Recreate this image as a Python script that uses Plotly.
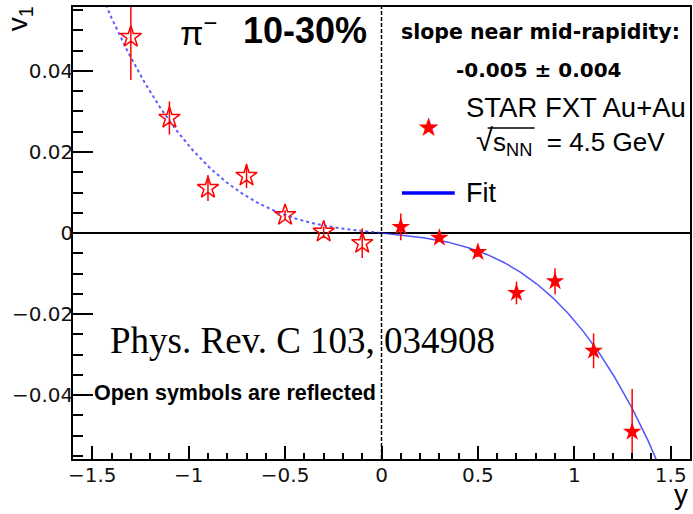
import numpy as np
import plotly.graph_objects as go

# ---------------- data ----------------
y_measured = [0.1, 0.3, 0.5, 0.7, 0.9, 1.1, 1.3]
v1_measured = [0.0015, -0.0012, -0.0047, -0.0148, -0.0119, -0.0291, -0.0491]
v1_measured_err = [0.0033, 0.0010, 0.0012, 0.0028, 0.0032, 0.0043, 0.0106]

y_reflected = [-0.1, -0.3, -0.5, -0.7, -0.9, -1.1, -1.3]
v1_reflected = [-0.0025, 0.0003, 0.0044, 0.0141, 0.0111, 0.0284, 0.0484]
v1_reflected_err = [0.0037, 0.0012, 0.0012, 0.0030, 0.0032, 0.0041, 0.0106]

# fit: v1 = a*y + b*y^3
fit_a = -0.0046
fit_b = -0.0170

x_ticks = [-1.5, -1.0, -0.5, 0.0, 0.5, 1.0, 1.5]
x_ticktext = ["\u22121.5", "\u22121", "\u22120.5", "0", "0.5", "1", "1.5"]
y_ticks = [-0.04, -0.02, 0.0, 0.02, 0.04]
y_ticktext = ["\u22120.04", "\u22120.02", "0", "0.02", "0.04"]

# ---------------- layout helpers ----------------
W, H = 693, 514
L, R, T, B = 73, 1, 7, 55
PW, PH = W - L - R, H - T - B


def px(x):
    return (x - L) / PW


def py(y):
    return (H - B - y) / PH


fit_xr = np.linspace(0.0, 1.6, 200)
fit_xl = np.linspace(-1.6, 0.0, 200)
fit_vr = fit_a * fit_xr + fit_b * fit_xr ** 3
fit_vl = fit_a * fit_xl + fit_b * fit_xl ** 3

fig = go.Figure()

fig.add_trace(go.Scatter(
    x=fit_xl, y=fit_vl, mode="lines",
    line=dict(color="rgba(40,40,255,0.75)", width=2, dash="dot"),
    showlegend=False, hoverinfo="skip"))
fig.add_trace(go.Scatter(
    x=fit_xr, y=fit_vr, mode="lines",
    line=dict(color="rgba(40,40,255,0.8)", width=1.5),
    showlegend=False, hoverinfo="skip"))

fig.add_trace(go.Scatter(
    x=y_reflected, y=v1_reflected, mode="markers",
    marker=dict(symbol="star-open", size=16, color="#ff0000",
                line=dict(color="#ff0000", width=1.5)),
    error_y=dict(type="data", array=v1_reflected_err, color="#ff0000",
                 thickness=1.5, width=0),
    showlegend=False))
fig.add_trace(go.Scatter(
    x=y_measured, y=v1_measured, mode="markers",
    marker=dict(symbol="star", size=14, color="#ff0000",
                line=dict(width=0)),
    error_y=dict(type="data", array=v1_measured_err, color="#ff0000",
                 thickness=1.5, width=0),
    showlegend=False))

tickfont = dict(family="DejaVu Sans", size=20, color="#111111")

fig.update_xaxes(
    range=[-1.6, 1.6], tickvals=x_ticks, ticktext=x_ticktext,
    ticks="inside", ticklen=13, tickwidth=1.5, tickcolor="black",
    minor=dict(dtick=0.1, tick0=0, ticks="inside", ticklen=6,
               tickwidth=1.5, tickcolor="black"),
    showline=True, linecolor="black", linewidth=1.5, mirror=True,
    showgrid=False, zeroline=False, tickfont=tickfont,
    ticklabelstandoff=-3)
fig.update_yaxes(
    range=[-0.0558, 0.0558], tickvals=y_ticks, ticktext=y_ticktext,
    ticks="inside", ticklen=20, tickwidth=1.5, tickcolor="black",
    minor=dict(dtick=0.005, tick0=0, ticks="inside", ticklen=10,
               tickwidth=1.5, tickcolor="black"),
    showline=True, linecolor="black", linewidth=1.5, mirror=True,
    showgrid=False, zeroline=True, zerolinecolor="black", zerolinewidth=1.5,
    tickfont=tickfont, ticklabelstandoff=-6)

fig.add_shape(type="line", xref="x", yref="paper", x0=0, x1=0, y0=0, y1=1,
              line=dict(color="black", width=1.5, dash="4px,2px"))

# legend key for the fit
fig.add_shape(type="line", xref="paper", yref="paper",
              x0=px(403), x1=px(456), y0=py(193), y1=py(193),
              line=dict(color="#0000ff", width=3.5))
# overbar of the square root
fig.add_shape(type="line", xref="paper", yref="paper", layer="above",
              x0=px(489), x1=px(536), y0=py(128), y1=py(128),
              line=dict(color="black", width=1.3))

ann = []


def text(s, x, y, size, family="Liberation Sans", xanchor="center",
         color="black", angle=0):
    ann.append(dict(text=s, x=px(x), y=py(y), xref="paper", yref="paper",
                    xanchor=xanchor, yanchor="middle", showarrow=False,
                    font=dict(family=family, size=size, color=color),
                    textangle=angle))


text("\u03c0<sup>\u2212</sup>", 199, 31, 34)
text("<b>10-30%</b>", 306, 30, 36)
text("<b>slope near mid-rapidity:</b>", 542, 32, 20.5, family="DejaVu Sans")
text("<b>-0.005 \u00b1 0.004</b>", 541, 70, 20, family="DejaVu Sans")
text("STAR FXT Au+Au", 465, 107, 27.5, xanchor="left")
text("<span style='font-size:31px'>\u221a</span>s<sub>NN</sub>  = 4.5 GeV",
     475, 142, 26, xanchor="left")
text("\u2605", 430, 127, 26, color="#ff0000")
text("Fit", 465, 193, 27, xanchor="left")
text("Phys. Rev. C 103, 034908", 108, 340, 37, family="Liberation Serif",
     xanchor="left")
text("<b>Open symbols are reflected</b>", 92, 393, 21.5, xanchor="left")
text("v<sub>1</sub>", 19, 19, 28, angle=-90)
text("y", 683, 494, 28)

fig.update_layout(
    width=W, height=H,
    margin=dict(l=L, r=R, t=T, b=B),
    paper_bgcolor="white", plot_bgcolor="white",
    annotations=ann, showlegend=False,
)

fig.write_html("out.html",
               config={"displayModeBar": False},
               post_script="document.body.style.margin='0';"
                           "document.body.style.padding='0';")
